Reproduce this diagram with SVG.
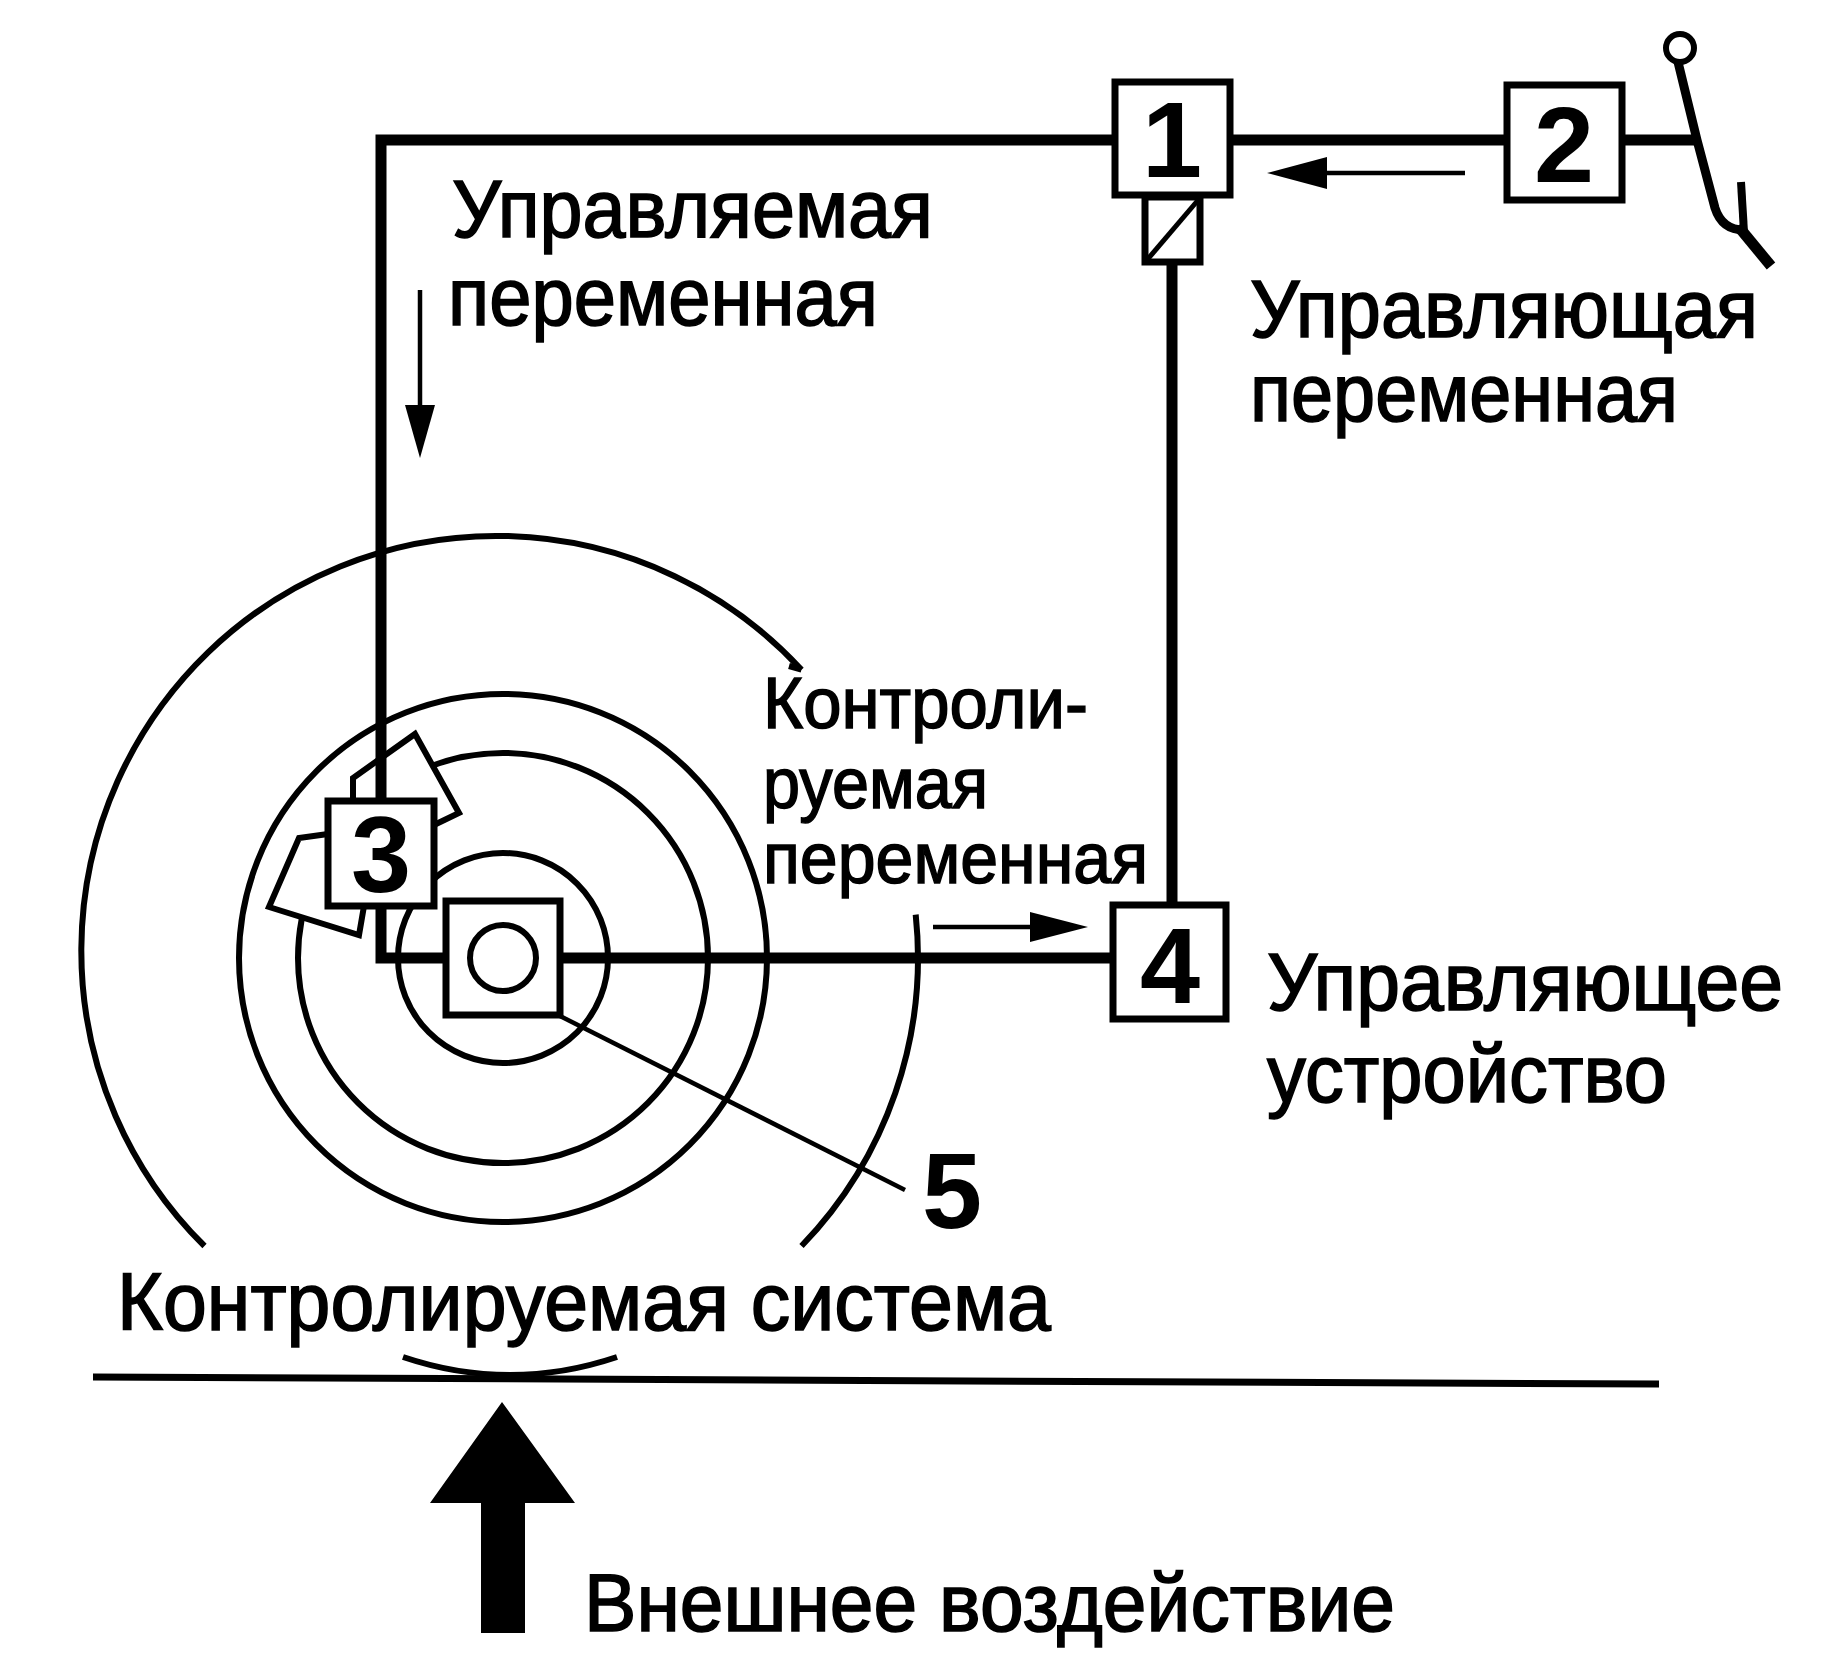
<svg xmlns="http://www.w3.org/2000/svg" width="1831" height="1654" viewBox="0 0 1831 1654">
<style>
.ln{fill:none;stroke:#000;stroke-linecap:butt;stroke-linejoin:miter}
.main{stroke-width:11}
.thin{stroke-width:4.5}
.circ{fill:none;stroke:#000;stroke-width:6}
.box{fill:#fff;stroke:#000;stroke-width:7}
.num{font-family:"Liberation Sans",Arial,sans-serif;font-weight:bold;font-size:108px;text-anchor:middle;fill:#000}
.lbl{font-family:"Liberation Sans",Arial,sans-serif;font-size:82px;fill:#000;stroke:#000;stroke-width:1.6}
.lbs{font-family:"Liberation Sans",Arial,sans-serif;font-size:73px;fill:#000;stroke:#000;stroke-width:1.5}
.head{fill:#000;stroke:none}
</style>
<rect width="1831" height="1654" fill="#fff"/>

<g id="wheel">
  <path class="circ" d="M204.5,1246 A415,415 0 1 1 801.5,669.7"/>
  <path class="circ" d="M801.5,669.7 L789,666"/>
  <path class="circ" d="M915.7,914.6 A415,415 0 0 1 801.5,1246"/>
  <circle class="circ" cx="503" cy="958" r="264"/>
  <circle class="circ" cx="503" cy="958" r="205"/>
  <circle class="circ" cx="503" cy="958" r="105"/>
  <polygon id="caliper-upper" points="353,801 353,778 415,734 459,813 434,825" fill="#fff" stroke="#000" stroke-width="6"/>
  <polygon id="caliper-lower" points="328,834 299,838 269,907 359,935 364,906" fill="#fff" stroke="#000" stroke-width="6"/>
</g>

<g id="connectors">
  <polyline class="ln main" points="381,801 381,140 1115,140"/>
  <line class="ln main" x1="1230" y1="140" x2="1507" y2="140"/>
  <line class="ln main" x1="1622" y1="140" x2="1700" y2="140"/>
  <line class="ln main" x1="1172" y1="262" x2="1172" y2="905"/>
  <polyline class="ln main" points="381,906 381,958 446,958"/>
  <line class="ln main" x1="560" y1="958" x2="1113" y2="958"/>
  <line class="ln thin" x1="560" y1="1016" x2="905" y2="1190"/>
  <line class="ln thin" x1="1465" y1="173" x2="1320" y2="173"/>
  <polygon class="head" points="1267,173 1327,157 1327,189"/>
  <line class="ln thin" x1="420" y1="290" x2="420" y2="410"/>
  <polygon class="head" points="420,458 405,405 435,405"/>
  <line class="ln thin" x1="933" y1="927" x2="1035" y2="927"/>
  <polygon class="head" points="1088,927 1030,912 1030,942"/>
  <line class="ln" stroke-width="7" x1="93" y1="1377" x2="1659" y2="1384"/>
  <path class="ln" stroke-width="6" d="M403,1357 Q510,1393 617,1357"/>
  <polygon class="head" points="502,1402 575,1503 525,1503 525,1633 481,1633 481,1503 430,1503"/>
</g>

<g id="pedal">
  <path class="ln" stroke-width="9" d="M1678,62 L1697,140 L1715,208 Q1722,230 1744,230"/>
  <line class="ln" stroke-width="8" x1="1741" y1="182" x2="1744" y2="232"/>
  <line class="ln" stroke-width="11" x1="1738" y1="226" x2="1771" y2="266"/>
  <circle cx="1680" cy="48" r="14" fill="#fff" stroke="#000" stroke-width="6"/>
</g>

<g id="node-1">
  <rect class="box" x="1115" y="82" width="115" height="113"/>
  <text class="num" x="1172" y="177">1</text>
  <rect class="box" x="1145" y="197" width="55" height="65" stroke-width="6"/>
  <line class="ln" stroke-width="5" x1="1147" y1="260" x2="1199" y2="199"/>
</g>
<g id="node-2">
  <rect class="box" x="1507" y="85" width="115" height="115"/>
  <text class="num" x="1564" y="182">2</text>
</g>
<g id="node-3">
  <rect class="box" x="328" y="801" width="106" height="105"/>
  <text class="num" x="381" y="892">3</text>
</g>
<g id="node-4">
  <rect class="box" x="1113" y="905" width="113" height="114"/>
  <text class="num" x="1170" y="1003">4</text>
</g>
<g id="node-5">
  <rect class="box" x="446" y="901" width="114" height="114" stroke-width="6"/>
  <circle class="circ" cx="503" cy="958" r="33"/>
  <text class="num" x="952" y="1228" font-size="98">5</text>
</g>

<g id="labels">
  <text class="lbl" x="452" y="237" textLength="481" lengthAdjust="spacingAndGlyphs">Управляемая</text>
  <text class="lbl" x="448" y="325" textLength="430" lengthAdjust="spacingAndGlyphs">переменная</text>
  <text class="lbl" x="1250" y="337" textLength="508" lengthAdjust="spacingAndGlyphs">Управляющая</text>
  <text class="lbl" x="1250" y="421" textLength="428" lengthAdjust="spacingAndGlyphs">переменная</text>
  <text class="lbs" x="763" y="728" textLength="325" lengthAdjust="spacingAndGlyphs">Контроли-</text>
  <text class="lbs" x="763" y="808" textLength="225" lengthAdjust="spacingAndGlyphs">руемая</text>
  <text class="lbs" x="763" y="883" textLength="385" lengthAdjust="spacingAndGlyphs">переменная</text>
  <text class="lbl" x="1267" y="1010" textLength="516" lengthAdjust="spacingAndGlyphs">Управляющее</text>
  <text class="lbl" x="1267" y="1102" textLength="400" lengthAdjust="spacingAndGlyphs">устройство</text>
  <text class="lbl" x="117" y="1330" textLength="934" lengthAdjust="spacingAndGlyphs">Контролируемая система</text>
  <text class="lbl" x="584" y="1631" textLength="811" lengthAdjust="spacingAndGlyphs">Внешнее воздействие</text>
</g>
</svg>
